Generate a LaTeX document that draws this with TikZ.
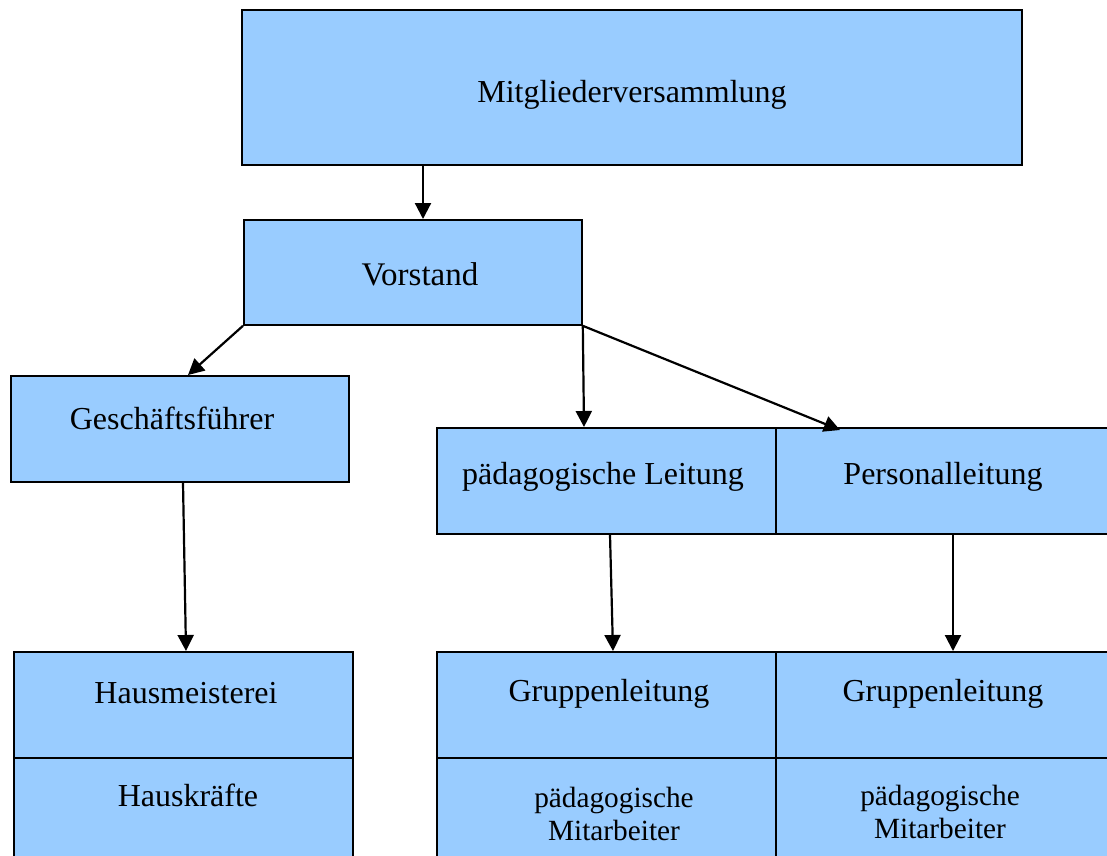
\documentclass[tikz,border=0pt]{standalone}
\usepackage{fontspec}
\setmainfont{Liberation Serif}
\usetikzlibrary{arrows.meta}
\definecolor{boxblue}{HTML}{99CCFF}
\tikzset{
  box/.style={draw=black, line width=1.8pt, fill=boxblue, rectangle, inner sep=0pt, anchor=north west},
  lbl/.style={anchor=base, inner sep=0pt, text=black, font=\fontsize{#1}{33}\selectfont},
  lbl/.default=32,
  arr/.style={line width=2.2pt, -{Triangle[length=16pt,width=16pt]}}
}
\begin{document}
\begin{tikzpicture}[x=1pt,y=-1pt]
\useasboundingbox (0,0) rectangle (1107,855);
\clip (0,0) rectangle (1107,855);
% boxes
\node[box, minimum width=780pt, minimum height=155pt] (mv) at (241,9) {};
\node[box, minimum width=338pt, minimum height=105pt] (vs) at (243,219) {};
\node[box, minimum width=338pt, minimum height=106pt] (gf) at (10,375) {};
\node[box, minimum width=339pt, minimum height=106pt] (pl) at (436,427) {};
\node[box, minimum width=345pt, minimum height=106pt] (pe) at (775,427) {};
\node[box, minimum width=339pt, minimum height=106pt] (hm) at (13,651) {};
\node[box, minimum width=339pt, minimum height=113pt] (hk) at (13,757) {};
\node[box, minimum width=339pt, minimum height=106pt] (gl1) at (436,651) {};
\node[box, minimum width=345pt, minimum height=106pt] (gl2) at (775,651) {};
\node[box, minimum width=339pt, minimum height=113pt] (pm1) at (436,757) {};
\node[box, minimum width=345pt, minimum height=113pt] (pm2) at (775,757) {};
% labels
\node[lbl] (tmv) at (632,102) {Mitgliederversammlung};
\node[lbl=33] (tvs) at (420,285) {Vorstand};
\node[lbl] (tgf) at (172,429) {Geschäftsführer};
\node[lbl] (tpl) at (603,484) {pädagogische Leitung};
\node[lbl] (tpe) at (943,484) {Personalleitung};
\node[lbl] (thm) at (186,703) {Hausmeisterei};
\node[lbl] (thk) at (188,806) {Hauskräfte};
\node[lbl] (tgl1) at (609,701) {Gruppenleitung};
\node[lbl] (tgl2) at (943,701) {Gruppenleitung};
\node[lbl=29.3, align=center] (tpm1) at (614,840) {pädagogische\\Mitarbeiter};
\node[lbl=29.3, align=center] (tpm2) at (940,838) {pädagogische\\Mitarbeiter};
% connectors
\draw[arr] (mv.south -| 423,0) -- (vs.north -| 423,0);
\draw[arr] (vs.south west) -- (gf.north -| 188,0);
\draw[arr] (vs.south east) -- (pl.north -| 584,0);
\draw[arr] (vs.south east) -- ([yshift=-3pt]pe.north -| 840,0);
\draw[arr] (gf.south -| 183,0) -- (hm.north -| 186,0);
\draw[arr] (pl.south -| 610,0) -- (gl1.north -| 613,0);
\draw[arr] (pe.south -| 953,0) -- (gl2.north -| 953,0);
\end{tikzpicture}
\end{document}
